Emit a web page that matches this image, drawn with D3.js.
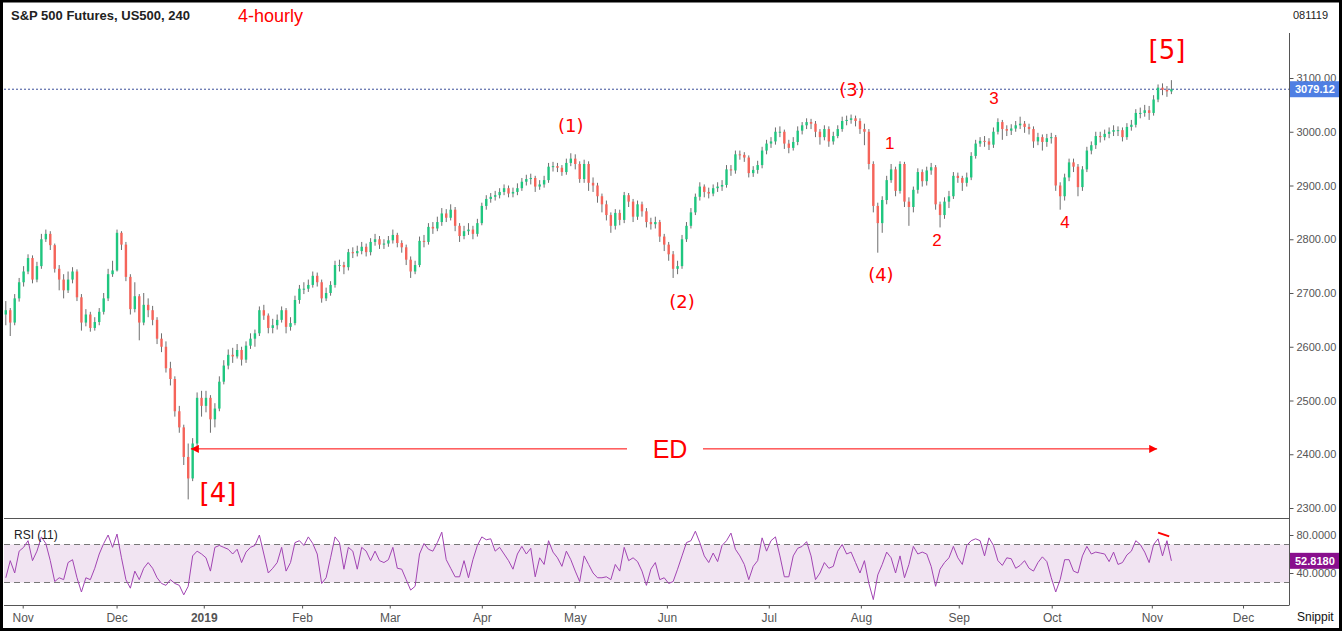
<!DOCTYPE html>
<html lang="en">
<head>
<meta charset="utf-8">
<title>S&amp;P 500 Futures 4-hourly</title>
<script src="https://d3js.org/d3.v7.min.js"></script>
<style>
  body { margin: 0; background: #fff; }
  svg { display: block; font-family: "Liberation Sans", Arial, sans-serif; }
</style>
</head>
<body>
<script>
// one candle per session
let firstOpen = 2660
let closes = [
  2668, 2645, 2690, 2720, 2740, 2765, 2725, 2750, 2800, 2810,
  2789, 2745, 2725, 2705, 2725, 2740, 2692, 2645, 2660, 2635,
  2646, 2665, 2690, 2735, 2742, 2812, 2790, 2730, 2670, 2694,
  2645, 2678, 2668, 2650, 2615, 2600, 2560, 2540, 2480, 2450,
  2395, 2355, 2420, 2505, 2490, 2505, 2465, 2485, 2535, 2565,
  2585, 2582, 2594, 2576, 2602, 2615, 2625, 2668, 2658, 2635,
  2640, 2650, 2668, 2637, 2644, 2687, 2708, 2708, 2715, 2732,
  2720, 2690, 2700, 2715, 2752, 2752, 2748, 2776, 2774, 2778,
  2786, 2776, 2795, 2800, 2790, 2792, 2798, 2808, 2793, 2785,
  2762, 2740, 2752, 2797, 2795, 2823, 2820, 2832, 2848, 2840,
  2855, 2825, 2806, 2815, 2818, 2810, 2830, 2862, 2875, 2879,
  2882, 2888, 2895, 2885, 2888, 2895, 2907, 2912, 2914, 2898,
  2902, 2910, 2935, 2936, 2933, 2925, 2942, 2950, 2940, 2912,
  2940, 2905, 2900, 2880, 2865, 2845, 2825, 2849, 2836, 2882,
  2870, 2842, 2865, 2852, 2832, 2828, 2832, 2805, 2790, 2772,
  2745, 2750, 2800, 2825, 2850, 2879, 2898, 2888, 2885, 2895,
  2898, 2901, 2930, 2928, 2958, 2957, 2952, 2923, 2929, 2938,
  2965, 2978, 2982, 3000, 3000, 2978, 2970, 2981, 3002, 3012,
  3018, 3015, 3000, 2990, 3005, 2982, 2992, 3005, 3020, 3022,
  3025, 3020, 3005, 3000, 2940, 2862, 2830, 2873, 2910, 2930,
  2890, 2940, 2870, 2860, 2892, 2925, 2908, 2928, 2934, 2865,
  2845, 2870, 2880, 2918, 2914, 2905, 2915, 2955, 2978, 2983,
  2982, 2976, 3000, 3018, 3005, 3002, 3006, 3012, 3015, 3009,
  3005, 2982, 2990, 2981, 2988, 2990, 2900, 2880, 2915, 2943,
  2935, 2897, 2930, 2965, 2975, 2992, 2990, 2996, 3000, 3003,
  3003, 2990, 3009, 3013, 3035, 3035, 3040, 3035, 3060, 3082,
  3078, 3075, 3079.12
]
let highs = [
  2685, 2672, 2698, 2728, 2750, 2772, 2770, 2758, 2810, 2818,
  2815, 2792, 2752, 2735, 2740, 2748, 2744, 2698, 2670, 2665,
  2655, 2672, 2700, 2745, 2760, 2818, 2815, 2795, 2735, 2720,
  2698, 2700, 2690, 2676, 2655, 2625, 2610, 2572, 2545, 2490,
  2455, 2420, 2430, 2515, 2518, 2518, 2510, 2495, 2545, 2575,
  2595, 2598, 2605, 2600, 2610, 2625, 2632, 2675, 2678, 2662,
  2652, 2660, 2675, 2672, 2655, 2695, 2715, 2720, 2725, 2740,
  2738, 2725, 2710, 2722, 2760, 2762, 2758, 2782, 2785, 2788,
  2795, 2792, 2802, 2810, 2806, 2800, 2806, 2818, 2812, 2798,
  2790, 2768, 2760, 2805, 2808, 2830, 2832, 2842, 2858, 2856,
  2865, 2860, 2830, 2825, 2830, 2825, 2838, 2868, 2882, 2886,
  2890, 2895, 2902, 2900, 2896, 2904, 2914, 2920, 2922, 2918,
  2910, 2918, 2942, 2944, 2942, 2938, 2950, 2960, 2958, 2945,
  2948, 2945, 2915, 2905, 2885, 2872, 2850, 2856, 2855, 2888,
  2886, 2875, 2872, 2870, 2858, 2840, 2842, 2836, 2810, 2795,
  2778, 2760, 2808, 2832, 2858, 2885, 2906, 2902, 2896, 2902,
  2906, 2910, 2938, 2938, 2965, 2965, 2962, 2956, 2936, 2946,
  2972, 2985, 2990, 3008, 3010, 3004, 2985, 2990, 3010, 3018,
  3025, 3024, 3020, 3005, 3012, 3010, 3000, 3012, 3028, 3030,
  3032, 3030, 3025, 3015, 3005, 2945, 2868, 2880, 2918, 2940,
  2935, 2945, 2944, 2878, 2898, 2932, 2930, 2935, 2942, 2938,
  2870, 2878, 2890, 2925, 2924, 2918, 2924, 2962, 2985, 2990,
  2992, 2988, 3008, 3025, 3022, 3012, 3014, 3020, 3028, 3020,
  3015, 3010, 2998, 2995, 2996, 2998, 2994, 2906, 2922, 2950,
  2950, 2940, 2936, 2972, 2982, 3000, 3000, 3004, 3008, 3012,
  3010, 3008, 3016, 3022, 3042, 3045, 3050, 3048, 3068, 3088,
  3090, 3085, 3096
]
let lows = [
  2640, 2620, 2640, 2684, 2712, 2735, 2718, 2720, 2745, 2795,
  2780, 2738, 2705, 2690, 2700, 2718, 2685, 2630, 2638, 2628,
  2630, 2640, 2660, 2685, 2730, 2740, 2780, 2722, 2660, 2664,
  2612, 2640, 2655, 2640, 2605, 2590, 2552, 2528, 2470, 2440,
  2380, 2316, 2350, 2415, 2470, 2478, 2440, 2450, 2480, 2530,
  2558, 2570, 2578, 2565, 2570, 2596, 2600, 2620, 2650, 2625,
  2625, 2632, 2645, 2625, 2630, 2640, 2680, 2698, 2702, 2710,
  2712, 2682, 2685, 2695, 2710, 2740, 2735, 2742, 2765, 2768,
  2772, 2768, 2770, 2788, 2782, 2782, 2786, 2792, 2785, 2775,
  2752, 2728, 2735, 2748, 2785, 2790, 2810, 2815, 2825, 2832,
  2835, 2815, 2795, 2800, 2808, 2800, 2805, 2826, 2855, 2868,
  2872, 2876, 2882, 2878, 2878, 2882, 2890, 2900, 2902, 2888,
  2892, 2896, 2905, 2926, 2925, 2918, 2920, 2936, 2930, 2905,
  2905, 2890, 2888, 2868, 2850, 2835, 2812, 2818, 2826, 2830,
  2860, 2832, 2836, 2842, 2822, 2818, 2820, 2795, 2778, 2760,
  2728, 2735, 2745, 2795, 2820, 2845, 2872, 2878, 2876, 2880,
  2888, 2890, 2896, 2918, 2922, 2948, 2944, 2915, 2916, 2922,
  2932, 2958, 2970, 2976, 2990, 2968, 2960, 2965, 2975, 2995,
  3005, 3005, 2990, 2976, 2984, 2972, 2976, 2988, 3000, 3012,
  3015, 3010, 2996, 2975, 2930, 2850, 2775, 2812, 2865, 2905,
  2880, 2885, 2860, 2825, 2850, 2885, 2898, 2900, 2920, 2855,
  2822, 2838, 2858, 2875, 2905, 2890, 2898, 2910, 2950, 2972,
  2972, 2966, 2970, 2995, 2985, 2992, 2994, 3000, 3005, 2998,
  2995, 2970, 2975, 2965, 2972, 2978, 2890, 2855, 2872, 2908,
  2925, 2880, 2890, 2925, 2958, 2968, 2980, 2984, 2988, 2992,
  2992, 2982, 2985, 3002, 3008, 3025, 3028, 3022, 3030, 3055,
  3068, 3065, 3070
]
let rsiValues = [
  35, 53, 40, 63, 67, 74, 53, 63, 78, 71,
  53, 31, 35, 33, 51, 54, 35, 20, 35, 33,
  45, 60, 71, 80, 67, 81, 56, 33, 24, 42,
  33, 45, 51, 45, 35, 29, 27, 33, 29, 27,
  17, 26, 58, 63, 60, 56, 42, 67, 69, 67,
  65, 60, 65, 51, 62, 67, 69, 80, 60, 40,
  45, 51, 67, 42, 51, 72, 74, 69, 78, 71,
  60, 29, 35, 56, 78, 72, 44, 67, 63, 44,
  67, 63, 53, 63, 53, 51, 54, 67, 45, 44,
  33, 22, 26, 60, 71, 65, 63, 72, 83, 54,
  45, 36, 36, 53, 35, 54, 69, 78, 75, 76,
  63, 67, 60, 53, 44, 60, 68, 60, 66, 36,
  56, 49, 74, 62, 56, 47, 63, 54, 42, 31,
  58, 49, 40, 35, 35, 36, 33, 49, 42, 67,
  53, 56, 52, 42, 27, 44, 51, 33, 35, 29,
  31, 44, 58, 72, 74, 84, 72, 58, 51, 61,
  52, 69, 74, 82, 65, 58, 49, 33, 47, 53,
  77, 63, 74, 78, 58, 36, 36, 58, 66, 68,
  73, 58, 33, 40, 51, 45, 47, 63, 70, 60,
  62, 51, 40, 53, 29, 12, 38, 49, 62, 56,
  40, 58, 35, 49, 68, 60, 62, 60, 47, 26,
  44, 51, 56, 68, 56, 49, 69, 74, 76, 74,
  58, 77, 69, 53, 48, 56, 55, 45, 48, 53,
  45, 42, 51, 57, 52, 35, 20, 33, 54, 54,
  42, 40, 58, 68, 60, 62, 61, 60, 52, 62,
  49, 51, 59, 63, 74, 70, 62, 51, 70, 76,
  58, 74, 52.818
]
let priceTicks = [2300, 2400, 2500, 2600, 2700, 2800, 2900, 3000, 3100]
let rsiTicks = [40, 80]
let monthLabels = ["Nov", "Dec", "2019", "Feb", "Mar", "Apr", "May", "Jun", "Jul", "Aug", "Sep", "Oct", "Nov", "Dec"]
let monthIndex = [3.8, 24.9, 44.5, 66.6, 86.3, 107, 127.9, 148.6, 171.5, 192.2, 214.2, 235.1, 257.6, 278.1]

// wave labels: [text, candle index, price, size, font]
let waveLabels = [
  ["(1)", 127, 3011, 18, "DejaVu Sans"],
  ["(2)", 152, 2685, 18, "DejaVu Sans"],
  ["(3)", 190.2, 3079, 18, "DejaVu Sans"],
  ["(4)", 196.7, 2735, 18, "DejaVu Sans"],
  ["1", 198.7, 2979, 17, "Liberation Sans"],
  ["2", 209.3, 2797, 17, "Liberation Sans"],
  ["3", 222.1, 3061, 17, "Liberation Sans"],
  ["4", 238.1, 2832, 17, "Liberation Sans"],
  ["[4]", 47.7, 2328, 26, "DejaVu Sans"],
  ["[5]", 261, 3152, 26, "DejaVu Sans"]
]
let edStart = 41.6, edEnd = 258.8, edPrice = 2410, edText = 149.3
let divergence = [[259, 82.5], [261.5, 78.5]]

let width = 1342
let height = 631
let axisX = 1289
let red = "#f00"

let svg = d3.select("body").append("svg")
  .attr("width", width)
  .attr("height", height)

let xScale = d3.scaleLinear().domain([0, 262]).range([5.8, 1171.4])
let yScale = d3.scaleLinear().domain([2300, 3100]).range([508, 78])
let rsiScale = d3.scaleLinear().domain([40, 80]).range([573, 535])

let candles = closes.map((c, i) => ({
  i: i,
  o: i === 0 ? firstOpen : closes[i - 1],
  c: c,
  h: highs[i],
  l: lows[i]
}))

// rsi band
svg.append("rect")
  .attr("x", 4).attr("width", axisX - 4)
  .attr("y", rsiScale(70)).attr("height", rsiScale(30) - rsiScale(70))
  .attr("fill", "#f1e4f2")
;[70, 30].forEach(v => {
  svg.append("line")
    .attr("x1", 4).attr("x2", axisX)
    .attr("y1", rsiScale(v)).attr("y2", rsiScale(v))
    .attr("stroke", "#777").attr("stroke-dasharray", "6,4")
})

// panel frame lines
svg.append("line").attr("x1", 4).attr("x2", axisX).attr("y1", 518.5).attr("y2", 518.5).attr("stroke", "#555")
svg.append("line").attr("x1", 4).attr("x2", axisX).attr("y1", 605.5).attr("y2", 605.5).attr("stroke", "#555")
svg.append("line").attr("x1", axisX + 0.5).attr("x2", axisX + 0.5).attr("y1", 33).attr("y2", 605.5).attr("stroke", "#555")

// price axis
let priceAxis = svg.append("g")
  .attr("transform", `translate(${axisX + 0.5},0)`)
  .call(d3.axisRight(yScale).tickValues(priceTicks).tickFormat(d3.format(".2f")).tickSize(4).tickPadding(3))
priceAxis.select(".domain").remove()
priceAxis.selectAll("line").attr("stroke", "#555")
priceAxis.selectAll("text").attr("fill", "#555").attr("font-size", 11).attr("font-family", "Liberation Sans, Arial")

let rsiAxis = svg.append("g")
  .attr("transform", `translate(${axisX + 0.5},0)`)
  .call(d3.axisRight(rsiScale).tickValues(rsiTicks).tickFormat(d3.format(".4f")).tickSize(4).tickPadding(3))
rsiAxis.select(".domain").remove()
rsiAxis.selectAll("line").attr("stroke", "#555")
rsiAxis.selectAll("text").attr("fill", "#555").attr("font-size", 11).attr("font-family", "Liberation Sans, Arial")

// time axis
let timeAxis = svg.append("g")
  .attr("transform", "translate(0,605.5)")
  .call(d3.axisBottom(xScale).tickValues(monthIndex).tickFormat((d, k) => monthLabels[k]).tickSize(3).tickPadding(5))
timeAxis.select(".domain").remove()
timeAxis.selectAll("line").attr("stroke", "#555")
timeAxis.selectAll("text")
  .attr("fill", "#555").attr("font-size", 12).attr("font-family", "Liberation Sans, Arial")
  .attr("font-weight", (d, k) => monthLabels[k] === "2019" ? "bold" : "normal")

// last price dotted line
let last = closes[closes.length - 1]
svg.append("line")
  .attr("x1", 4).attr("x2", axisX)
  .attr("y1", yScale(last)).attr("y2", yScale(last))
  .attr("stroke", "#3c4f9a").attr("stroke-dasharray", "2,2")

// candles
let cg = svg.append("g")
cg.selectAll("line.wick")
  .data(candles).enter().append("line")
  .attr("class", "wick")
  .attr("x1", d => xScale(d.i)).attr("x2", d => xScale(d.i))
  .attr("y1", d => yScale(d.h)).attr("y2", d => yScale(d.l))
  .attr("stroke", "#6e6e6e").attr("stroke-width", 1)
cg.selectAll("rect.body")
  .data(candles).enter().append("rect")
  .attr("class", "body")
  .attr("x", d => xScale(d.i) - 1.2)
  .attr("width", 2.4)
  .attr("y", d => yScale(Math.max(d.o, d.c)))
  .attr("height", d => Math.max(1, Math.abs(yScale(d.o) - yScale(d.c))))
  .attr("fill", d => d.c >= d.o ? "#1fc67f" : "#f5645a")

// rsi line
svg.append("path")
  .datum(rsiValues)
  .attr("d", d3.line().x((d, i) => xScale(i)).y(d => rsiScale(d)))
  .attr("fill", "none").attr("stroke", "#a245b3").attr("stroke-width", 1)

svg.append("path")
  .datum(divergence)
  .attr("d", d3.line().x(d => xScale(d[0])).y(d => rsiScale(d[1])))
  .attr("stroke", red).attr("stroke-width", 2)

// value badges
svg.append("rect")
  .attr("x", axisX + 1).attr("y", yScale(last) - 8).attr("width", 49).attr("height", 16)
  .attr("fill", "#4f7fe3")
svg.append("text")
  .attr("x", axisX + 6).attr("y", yScale(last) + 4)
  .attr("fill", "#fff").attr("font-size", 11).attr("font-weight", "bold")
  .text(d3.format(".2f")(last))
let lastRsi = rsiValues[rsiValues.length - 1]
svg.append("rect")
  .attr("x", axisX + 1).attr("y", rsiScale(lastRsi) - 8).attr("width", 49).attr("height", 16)
  .attr("fill", "#890f8d")
svg.append("text")
  .attr("x", axisX + 6).attr("y", rsiScale(lastRsi) + 4)
  .attr("fill", "#fff").attr("font-size", 11).attr("font-weight", "bold")
  .text(d3.format(".4f")(lastRsi))

// ED arrow
let defs = svg.append("defs")
defs.append("marker").attr("id", "arrowR")
  .attr("viewBox", "0 0 10 10").attr("refX", 10).attr("refY", 5)
  .attr("markerWidth", 8).attr("markerHeight", 8).attr("markerUnits", "userSpaceOnUse").attr("orient", "auto")
  .append("path").attr("d", "M0,0 L10,5 L0,10 z").attr("fill", red)
defs.append("marker").attr("id", "arrowL")
  .attr("viewBox", "0 0 10 10").attr("refX", 0).attr("refY", 5)
  .attr("markerWidth", 8).attr("markerHeight", 8).attr("markerUnits", "userSpaceOnUse").attr("orient", "auto")
  .append("path").attr("d", "M10,0 L0,5 L10,10 z").attr("fill", red)

let edY = yScale(edPrice)
svg.append("line")
  .attr("x1", xScale(edStart)).attr("x2", xScale(edText) - 43)
  .attr("y1", edY).attr("y2", edY)
  .attr("stroke", red).attr("stroke-width", 1)
  .attr("marker-start", "url(#arrowL)")
svg.append("line")
  .attr("x1", xScale(edText) + 33).attr("x2", xScale(edEnd))
  .attr("y1", edY).attr("y2", edY)
  .attr("stroke", red).attr("stroke-width", 1)
  .attr("marker-end", "url(#arrowR)")
svg.append("text")
  .attr("x", xScale(edText)).attr("y", edY)
  .attr("text-anchor", "middle").attr("dominant-baseline", "central")
  .attr("fill", red).attr("font-size", 25)
  .text("ED")

svg.selectAll("text.wave")
  .data(waveLabels).enter().append("text")
  .attr("class", "wave")
  .attr("x", d => xScale(d[1])).attr("y", d => yScale(d[2]))
  .attr("text-anchor", "middle").attr("dominant-baseline", "central")
  .attr("font-family", d => d[4]).attr("font-size", d => d[3])
  .attr("fill", red)
  .text(d => d[0])

// header texts
svg.append("text").attr("x", 11).attr("y", 20)
  .attr("font-size", 13).attr("font-weight", "bold").attr("fill", "#222")
  .text("S&P 500 Futures, US500, 240")
svg.append("text").attr("x", 238).attr("y", 22)
  .attr("font-size", 18).attr("fill", red)
  .text("4-hourly")
svg.append("text").attr("x", 1293).attr("y", 19)
  .attr("font-size", 11).attr("fill", "#222")
  .text("081119")
svg.append("text").attr("x", 14).attr("y", 539)
  .attr("font-size", 12).attr("fill", "#222")
  .text("RSI (11)")
svg.append("text").attr("x", 1297).attr("y", 621)
  .attr("font-size", 12).attr("fill", "#111")
  .text("Snippit")

// outer frame
svg.append("rect")
  .attr("x", 1.5).attr("y", 1).attr("width", width - 3).attr("height", height - 2.5)
  .attr("fill", "none").attr("stroke", "#000").attr("stroke-width", 3)
</script>
</body>
</html>
